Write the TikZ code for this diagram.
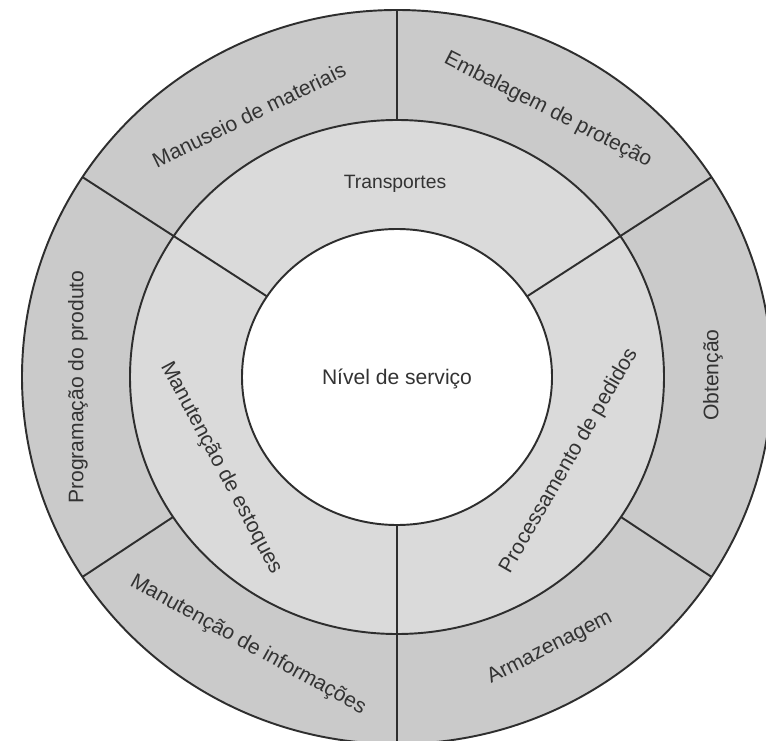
\documentclass[tikz,border=0pt]{standalone}
\usepackage{fontspec}
\setmainfont{Liberation Sans}
\definecolor{anelext}{HTML}{CACACA}
\definecolor{anelmeio}{HTML}{DADADA}
\definecolor{traco}{HTML}{2E2E2E}
\begin{document}
\begin{tikzpicture}[x=0.02cm, y=0.02cm,
    rotulo/.style={font=\fontsize{12}{14}\selectfont, text=black!80, inner sep=0pt},
    divisao/.style={draw=traco, line width=1.1pt}]
    \useasboundingbox (-397,-363) rectangle (369,377);
    \clip (-397,-363) rectangle (369,377);
    \fill[white] (-397,-363) rectangle (369,377);

    % Anéis
    \filldraw[fill=anelext, divisao] (0,0) ellipse [x radius=375, y radius=367];
    \filldraw[fill=anelmeio, divisao] (0,0) ellipse [x radius=267, y radius=257];
    \filldraw[fill=white, divisao] (0,0) ellipse [x radius=155, y radius=148];

    % Divisões dos dois anéis
    \foreach \a in {33,147,270} {
        \draw[divisao] (\a:155 and 148) -- (\a:375 and 367);
    }
    % Divisões só do anel externo
    \foreach \a in {90,213,327} {
        \draw[divisao] (\a:267 and 257) -- (\a:375 and 367);
    }

    % Centro e anel do meio
    \node[rotulo] (nivel) at (0,-2) {Nível de serviço};
    \node[rotulo, font=\fontsize{11}{13}\selectfont] (transp) at (-2,193) {Transportes};
    \node[rotulo, rotate=-62] (estoq) at (-176,-91) {Manutenção de estoques};
    \node[rotulo, rotate=60] (pedid) at (172,-84) {Processamento de pedidos};

    % Anel externo
    \node[rotulo, rotate=26] (manus) at (-148,262) {Manuseio de materiais};
    \node[rotulo, rotate=-27] (embal) at (151,267) {Embalagem de proteção};
    \node[rotulo, rotate=90] (obten) at (316,2) {Obtenção};
    \node[rotulo, rotate=90] (progr) at (-319,-10) {Programação do produto};
    \node[rotulo, rotate=27] (armaz) at (153,-271) {Armazenagem};
    \node[rotulo, rotate=-29] (infor) at (-149,-268) {Manutenção de informações};
\end{tikzpicture}
\end{document}
